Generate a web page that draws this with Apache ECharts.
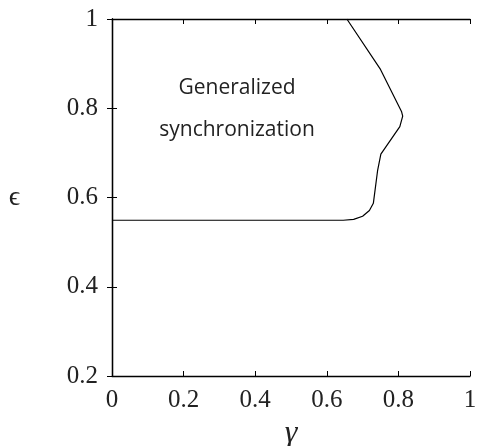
<!DOCTYPE html>
<html>
<head>
<meta charset="utf-8">
<script src="https://cdn.jsdelivr.net/npm/echarts@6/dist/echarts.min.js"></script>
<style>html,body{margin:0;padding:0;background:#fff;}#c{width:481px;height:446px;}</style>
</head>
<body>
<div id="c"></div>
<script>
// Boundary of generalized synchronization region (gamma, epsilon)
const gammaVals = [0.0, 0.646, 0.675, 0.700, 0.719, 0.730, 0.742, 0.751, 0.804, 0.812, 0.809, 0.750, 0.656];
const epsVals   = [0.549, 0.549, 0.551, 0.558, 0.571, 0.587, 0.661, 0.697, 0.759, 0.7825, 0.792, 0.887, 1.0];
const xTicks = [0, 0.2, 0.4, 0.6, 0.8, 1];
const yTicks = [0.2, 0.4, 0.6, 0.8, 1];
const regionLabel = ['Generalized', 'synchronization'];

const chart = echarts.init(document.getElementById('c'));
const serif = 'Liberation Serif';
const fmt = v => (Math.abs(v - Math.round(v)) < 1e-9 ? String(Math.round(v)) : v.toFixed(1));
const axisCommon = {
  type: 'value',
  interval: 0.2,
  axisLine: { show: true, lineStyle: { color: '#000', width: 1.3 } },
  axisTick: { show: true, inside: true, length: 5, lineStyle: { color: '#000', width: 1 } },
  splitLine: { show: false }
};
chart.setOption({
  animation: false,
  backgroundColor: '#fff',
  grid: { left: 112, right: 11, top: 19, bottom: 70, containLabel: false, outerBoundsMode: 'none' },
  xAxis: [
    Object.assign({}, axisCommon, {
      min: 0, max: 1, position: 'bottom',
      axisLabel: { show: true, margin: 12, fontFamily: serif, fontSize: 25, color: '#222', formatter: fmt },
      name: 'γ', nameLocation: 'middle', nameGap: 40,
      nameTextStyle: { fontFamily: serif, fontStyle: 'italic', fontSize: 32, color: '#222' }
    }),
    Object.assign({}, axisCommon, { min: 0, max: 1, position: 'top', axisLabel: { show: false } })
  ],
  yAxis: [
    Object.assign({}, axisCommon, {
      min: 0.2, max: 1, position: 'left',
      axisLabel: { show: true, margin: 14, fontFamily: serif, fontSize: 25, color: '#222', formatter: fmt },
      name: 'ϵ', nameLocation: 'middle', nameGap: 92, nameRotate: 0,
      nameTextStyle: { fontFamily: serif, fontSize: 28, color: '#222' }
    }),
    Object.assign({}, axisCommon, { min: 0.2, max: 1, position: 'right', axisLabel: { show: false } })
  ],
  series: [{
    type: 'line',
    data: gammaVals.map((g, i) => [g, epsVals[i]]),
    showSymbol: false,
    symbol: 'none',
    lineStyle: { color: '#000', width: 1.2 },
    xAxisIndex: 0, yAxisIndex: 0
  }],
  graphic: [
    { type: 'text', style: { text: regionLabel[0], x: 237, y: 88, align: 'center', verticalAlign: 'middle', font: '21px "Open Sans"', fill: '#222' } },
    { type: 'text', style: { text: regionLabel[1], x: 237, y: 130, align: 'center', verticalAlign: 'middle', font: '21px "Open Sans"', fill: '#222' } }
  ]
});
</script>
</body>
</html>
